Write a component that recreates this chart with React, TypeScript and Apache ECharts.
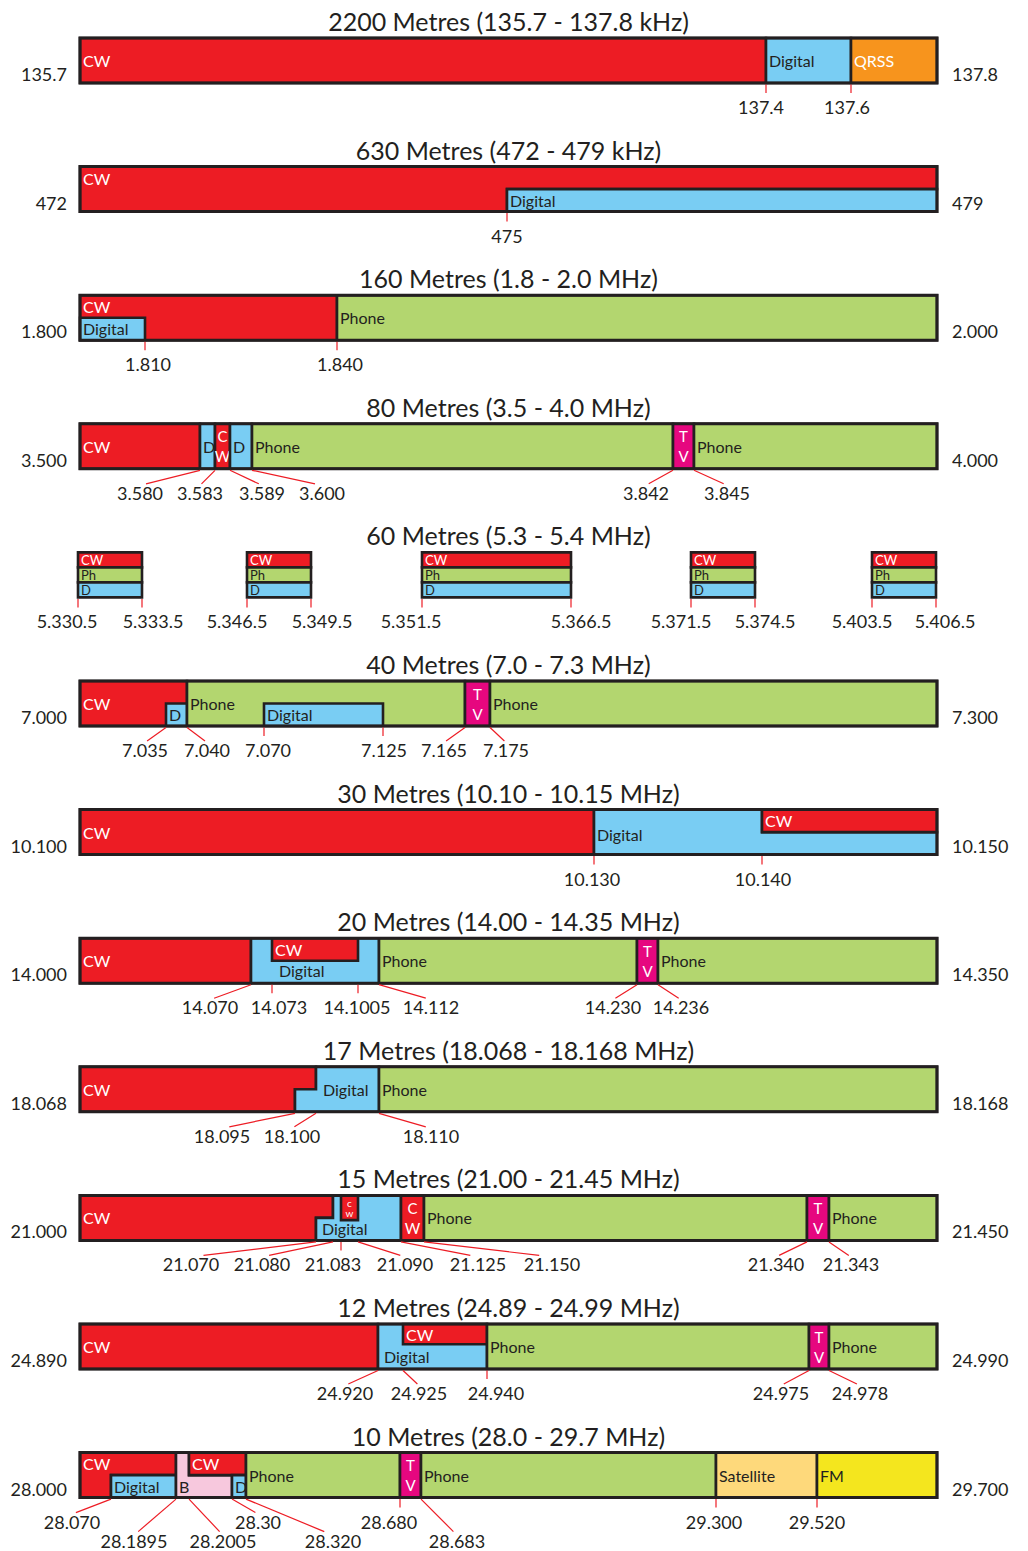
import React, { useEffect, useRef } from "react";
import * as echarts from "echarts";

type Pt = [number, number];
type SegT = [string, string, Pt[], Pt?];
type TickT = [number, string, number, number?];

// Schematic ruler: every band bar runs from 0 to 857 units (not to frequency scale).
const R = (x0: number, x1: number, y0 = 0, y1 = 1): Pt[] => [[x0, y0], [x1, y0], [x1, y1], [x0, y1]];

const BAND_TITLES = [
  "2200 Metres (135.7 - 137.8 kHz)",
  "630 Metres (472 - 479 kHz)",
  "160 Metres (1.8 - 2.0 MHz)",
  "80 Metres (3.5 - 4.0 MHz)",
  "60 Metres (5.3 - 5.4 MHz)",
  "40 Metres (7.0 - 7.3 MHz)",
  "30 Metres (10.10 - 10.15 MHz)",
  "20 Metres (14.00 - 14.35 MHz)",
  "17 Metres (18.068 - 18.168 MHz)",
  "15 Metres (21.00 - 21.45 MHz)",
  "12 Metres (24.89 - 24.99 MHz)",
  "10 Metres (28.0 - 29.7 MHz)",
];
const LOW_EDGES = ["135.7", "472", "1.800", "3.500", "", "7.000", "10.100", "14.000", "18.068", "21.000", "24.890", "28.000"];
const HIGH_EDGES = ["137.8", "479", "2.000", "4.000", "", "7.300", "10.150", "14.350", "18.168", "21.450", "24.990", "29.700"];

const MODE_COLORS: Record<string, string> = {
  CW: "#ed1c24",
  Digital: "#79cdf3",
  Phone: "#b3d66f",
  TV: "#e6077f",
  QRSS: "#f7941d",
  B: "#f7c8dd",
  Satellite: "#fed97b",
  FM: "#f4e61e",
};
const LIGHT_TEXT = ["CW", "TV", "QRSS"];

const SEG_2200: SegT[] = [
  ["CW", "CW", R(0, 686)],
  ["Digital", "Digital", R(686, 771)],
  ["QRSS", "QRSS", R(771, 857)],
];
const TICK_2200: TickT[] = [[686, "137.4", 681], [771, "137.6", 767]];

const SEG_630: SegT[] = [
  ["CW", "CW", [[0, 0], [857, 0], [857, 0.5], [427, 0.5], [427, 1], [0, 1]], [0, 0.27]],
  ["Digital", "Digital", R(427, 857, 0.5, 1)],
];
const TICK_630: TickT[] = [[427, "475", 427]];

const SEG_160: SegT[] = [
  ["CW", "CW", R(0, 257), [0, 0.25]],
  ["Digital", "Digital", R(0, 65, 0.5, 1)],
  ["Phone", "Phone", R(257, 857)],
];
const TICK_160: TickT[] = [[65, "1.810", 68], [257, "1.840", 260]];

const SEG_80: SegT[] = [
  ["CW", "CW", R(0, 120)],
  ["Digital", "D", R(120, 135)],
  ["CW", "C\nW", R(135, 150)],
  ["Digital", "D", R(150, 172)],
  ["Phone", "Phone", R(172, 593)],
  ["TV", "T\nV", R(593, 614)],
  ["Phone", "Phone", R(614, 857)],
];
const TICK_80: TickT[] = [
  [120, "3.580", 60], [135, "3.583", 120], [150, "3.589", 182], [172, "3.600", 242],
  [593, "3.842", 566], [614, "3.845", 647],
];

const SEG_60: SegT[] = [
  ["CW", "CW", R(-2, 62, 0, 1 / 3)], ["Phone", "Ph", R(-2, 62, 1 / 3, 2 / 3)], ["Digital", "D", R(-2, 62, 2 / 3, 1)],
  ["CW", "CW", R(167, 231, 0, 1 / 3)], ["Phone", "Ph", R(167, 231, 1 / 3, 2 / 3)], ["Digital", "D", R(167, 231, 2 / 3, 1)],
  ["CW", "CW", R(342, 491, 0, 1 / 3)], ["Phone", "Ph", R(342, 491, 1 / 3, 2 / 3)], ["Digital", "D", R(342, 491, 2 / 3, 1)],
  ["CW", "CW", R(611, 675, 0, 1 / 3)], ["Phone", "Ph", R(611, 675, 1 / 3, 2 / 3)], ["Digital", "D", R(611, 675, 2 / 3, 1)],
  ["CW", "CW", R(792, 856, 0, 1 / 3)], ["Phone", "Ph", R(792, 856, 1 / 3, 2 / 3)], ["Digital", "D", R(792, 856, 2 / 3, 1)],
];
const TICK_60: TickT[] = [
  [-2, "5.330.5", -13], [62, "5.333.5", 73], [167, "5.346.5", 157], [231, "5.349.5", 242],
  [342, "5.351.5", 331], [491, "5.366.5", 501], [611, "5.371.5", 601], [675, "5.374.5", 685],
  [792, "5.403.5", 782], [856, "5.406.5", 865],
];

const SEG_40: SegT[] = [
  ["CW", "CW", R(0, 107)],
  ["Digital", "D", R(86, 107, 0.5, 1)],
  ["Phone", "Phone", R(107, 385)],
  ["Digital", "Digital", R(184, 303, 0.5, 1)],
  ["TV", "T\nV", R(385, 410)],
  ["Phone", "Phone", R(410, 857)],
];
const TICK_40: TickT[] = [
  [86, "7.035", 65], [107, "7.040", 127], [184, "7.070", 188], [303, "7.125", 304],
  [385, "7.165", 364], [410, "7.175", 426],
];

const SEG_30: SegT[] = [
  ["CW", "CW", R(0, 514)],
  ["Digital", "Digital", [[514, 0], [682, 0], [682, 0.5], [857, 0.5], [857, 1], [514, 1]], [514, 0.55]],
  ["CW", "CW", R(682, 857, 0, 0.5)],
];
const TICK_30: TickT[] = [[514, "10.130", 512], [682, "10.140", 683]];

const SEG_20: SegT[] = [
  ["CW", "CW", R(0, 171)],
  ["Digital", "Digital", R(171, 299), [196, 0.72]],
  ["CW", "CW", R(192, 278, 0, 0.5)],
  ["Phone", "Phone", R(299, 557)],
  ["TV", "T\nV", R(557, 578)],
  ["Phone", "Phone", R(578, 857)],
];
const TICK_20: TickT[] = [
  [171, "14.070", 130], [192, "14.073", 199], [278, "14.1005", 277], [299, "14.112", 351],
  [557, "14.230", 533], [578, "14.236", 601],
];

const SEG_17: SegT[] = [
  ["CW", "CW", [[0, 0], [236, 0], [236, 0.5], [215, 0.5], [215, 1], [0, 1]], [0, 0.5]],
  ["Digital", "Digital", [[236, 0], [299, 0], [299, 1], [215, 1], [215, 0.5], [236, 0.5]], [240, 0.5]],
  ["Phone", "Phone", R(299, 857)],
];
const TICK_17: TickT[] = [[215, "18.095", 142], [236, "18.100", 212], [299, "18.110", 351]];

const SEG_15: SegT[] = [
  ["CW", "CW", [[0, 0], [253, 0], [253, 0.5], [236, 0.5], [236, 1], [0, 1]], [0, 0.5]],
  ["Digital", "Digital", [[253, 0], [321, 0], [321, 1], [236, 1], [236, 0.5], [253, 0.5]], [239, 0.74]],
  ["CW", "c\nw", R(261, 278, 0, 0.55)],
  ["CW", "C\nW", R(321, 344)],
  ["Phone", "Phone", R(344, 727)],
  ["TV", "T\nV", R(727, 749)],
  ["Phone", "Phone", R(749, 857)],
];
const TICK_15: TickT[] = [
  [236, "21.070", 111], [253, "21.080", 182], [261, "21.083", 253], [278, "21.090", 325],
  [321, "21.125", 398], [344, "21.150", 472], [727, "21.340", 696], [749, "21.343", 771],
];

const SEG_12: SegT[] = [
  ["CW", "CW", R(0, 298)],
  ["Digital", "Digital", R(298, 407), [301, 0.72]],
  ["CW", "CW", R(323, 407, 0, 0.45)],
  ["Phone", "Phone", R(407, 729)],
  ["TV", "T\nV", R(729, 749)],
  ["Phone", "Phone", R(749, 857)],
];
const TICK_12: TickT[] = [
  [298, "24.920", 265], [323, "24.925", 339], [407, "24.940", 416], [729, "24.975", 701], [749, "24.978", 780],
];

const SEG_10: SegT[] = [
  ["CW", "CW", [[0, 0], [96, 0], [96, 0.5], [31, 0.5], [31, 1], [0, 1]], [0, 0.25]],
  ["Digital", "Digital", R(31, 96, 0.5, 1)],
  ["B", "B", [[96, 0], [109, 0], [109, 0.5], [152, 0.5], [152, 1], [96, 1]], [96, 0.75]],
  ["CW", "CW", R(109, 166, 0, 0.5)],
  ["Digital", "D", R(152, 166, 0.5, 1)],
  ["Phone", "Phone", R(166, 320)],
  ["TV", "T\nV", R(320, 341)],
  ["Phone", "Phone", R(341, 636)],
  ["Satellite", "Satellite", R(636, 737)],
  ["FM", "FM", R(737, 857)],
];
const TICK_10: TickT[] = [
  [31, "28.070", -8, 0], [96, "28.1895", 54, 1], [109, "28.2005", 143, 1], [152, "28.30", 178, 0],
  [166, "28.320", 253, 1], [320, "28.680", 309, 0], [341, "28.683", 377, 1],
  [636, "29.300", 634, 0], [737, "29.520", 737, 0],
];

const BAND_SEGS = [SEG_2200, SEG_630, SEG_160, SEG_80, SEG_60, SEG_40, SEG_30, SEG_20, SEG_17, SEG_15, SEG_12, SEG_10];
const BAND_TICKS = [TICK_2200, TICK_630, TICK_160, TICK_80, TICK_60, TICK_40, TICK_30, TICK_20, TICK_17, TICK_15, TICK_12, TICK_10];

const ROW = 128.6;
const BAR = 45 / ROW;
const Y_MAX = 11.5;
const FONT = "Lato, 'Open Sans', sans-serif";
const INK = "#231f20";

function txt(x: number, y: number, text: string, size: number, fill: string, align: string, lineHeight?: number) {
  return {
    type: "text",
    x,
    y,
    style: {
      text,
      fill,
      font: `${size}px ${FONT}`,
      align,
      verticalAlign: "middle",
      textAlign: align,
      textVerticalAlign: "middle",
      lineHeight: lineHeight ?? size + 2,
    },
  };
}

export default function App() {
  const ref = useRef<HTMLDivElement>(null);
  useEffect(() => {
    if (!ref.current) return;
    const chart = echarts.init(ref.current, undefined, { renderer: "svg" });

    const segs = BAND_SEGS.flatMap((list, band) =>
      list.map((s) => ({ band, mode: s[0], text: s[1], pts: s[2], at: s[3] }))
    );
    const ticks = BAND_TICKS.flatMap((list, band) =>
      list.map((t) => ({ band, x: t[0], text: t[1], lx: t[2], row: t[3] ?? 0 }))
    );
    const bands = BAND_TITLES.map((t, i) => ({ title: t, low: LOW_EDGES[i], high: HIGH_EDGES[i], band: i }));

    const segRender = (params: any, api: any) => {
      const s = segs[params.dataIndex];
      const pts = s.pts.map(([x, f]) => api.coord([x, s.band + f * BAR]));
      const xs = s.pts.map((p) => p[0]);
      const fs = s.pts.map((p) => p[1]);
      const minX = Math.min(...xs), maxX = Math.max(...xs);
      const minF = Math.min(...fs), maxF = Math.max(...fs);
      const fill = LIGHT_TEXT.includes(s.mode) ? "#ffffff" : INK;
      const children: any[] = [
        {
          type: "polygon",
          shape: { points: pts },
          style: { fill: MODE_COLORS[s.mode], stroke: INK, lineWidth: 2.6, lineJoin: "miter" },
        },
      ];
      const small = s.band === 4;
      if (s.text.includes("\n")) {
        const [cx, cy] = api.coord([(minX + maxX) / 2, s.band + ((minF + maxF) / 2) * BAR]);
        const tiny = s.text === "c\nw";
        children.push(txt(cx, cy, s.text, tiny ? 10 : 15, fill, "center", tiny ? 10 : 20));
      } else {
        const at = s.at ?? [minX, (minF + maxF) / 2];
        const [tx, ty] = api.coord([at[0], s.band + at[1] * BAR]);
        children.push(txt(tx + 3, ty, s.text, small ? 13 : 16, fill, "left"));
      }
      return { type: "group", children };
    };

    const tickRender = (params: any, api: any) => {
      const t = ticks[params.dataIndex];
      const [x, yb] = api.coord([t.x, t.band + BAR]);
      const lx = api.coord([t.lx, 0])[0];
      const ly = yb + 24 + t.row * 19;
      const vertical = Math.abs(lx - x) <= 12;
      const x2 = vertical ? x : lx + (x - lx) * 0.1;
      const y2 = vertical ? yb + 10 : ly - 9;
      return {
        type: "group",
        children: [
          { type: "line", shape: { x1: x, y1: yb + 1.5, x2, y2 }, style: { stroke: "#ed1c24", lineWidth: 1.2 } },
          txt(lx, ly, t.text, 18, INK, "center"),
        ],
      };
    };

    const bandRender = (params: any, api: any) => {
      const b = bands[params.dataIndex];
      const [cx, top] = api.coord([428.5, b.band]);
      const children: any[] = [txt(cx, top - 17, b.title, 25, INK, "center")];
      if (b.band !== 4) {
        const outline = R(0, 857).map(([x, f]) => api.coord([x, b.band + f * BAR]));
        children.push({
          type: "polygon",
          shape: { points: outline },
          style: { fill: "none", stroke: INK, lineWidth: 3, lineJoin: "miter" },
        });
        const [lx, ey] = api.coord([-13, b.band + 0.8 * BAR]);
        const rx = api.coord([872, 0])[0];
        children.push(txt(lx, ey, b.low, 18, INK, "right"));
        children.push(txt(rx, ey, b.high, 18, INK, "left"));
      }
      return { type: "group", children };
    };

    chart.setOption({
      animation: false,
      backgroundColor: "#ffffff",
      grid: { left: 80, top: 38, width: 857, height: Y_MAX * ROW },
      xAxis: { type: "value", min: 0, max: 857, show: false },
      yAxis: { type: "value", min: 0, max: Y_MAX, inverse: true, show: false },
      series: [
        { type: "custom", renderItem: segRender, data: segs.map(() => [0, 0]), clip: false, z: 2, silent: true },
        { type: "custom", renderItem: bandRender, data: bands.map(() => [0, 0]), clip: false, z: 3, silent: true },
        { type: "custom", renderItem: tickRender, data: ticks.map(() => [0, 0]), clip: false, z: 4, silent: true },
      ],
    });
    return () => chart.dispose();
  }, []);

  return (
    <div
      ref={ref}
      style={{ position: "absolute", left: 0, top: 0, width: 1028, height: 1551, background: "#ffffff" }}
    />
  );
}
